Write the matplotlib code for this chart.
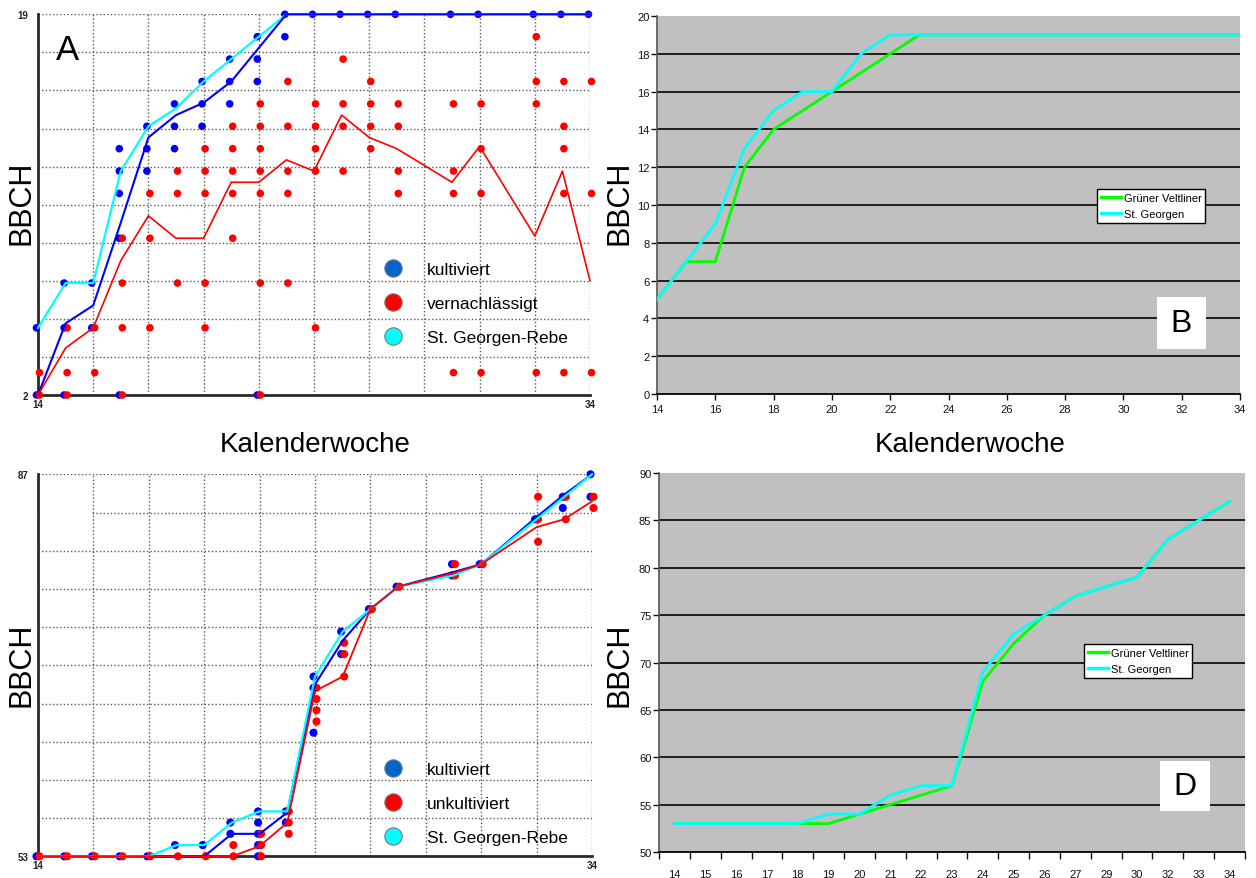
import numpy as np
import matplotlib
matplotlib.use('Agg')
import matplotlib.pyplot as plt
from matplotlib.lines import Line2D
from matplotlib.patches import Rectangle
import matplotlib.transforms as mtransforms

plt.rcParams['font.family'] = ['Liberation Sans', 'DejaVu Sans']
NARROW = ['Liberation Sans Narrow', 'Liberation Sans', 'DejaVu Sans']

# ---------------- data ----------------
weeks = [14, 15, 16, 17, 18, 19, 20, 21, 22, 23, 24, 25, 26, 27, 29, 30, 32, 33, 34]
week_labels = [str(w) for w in weeks]

# Panel A (BBCH 2..19) single observations
a_kult_points = {
    14: [5, 2], 15: [7, 5, 2], 16: [7, 5], 17: [13, 12, 11, 9, 2],
    18: [14, 13, 12], 19: [15, 14, 13], 20: [16, 15, 14], 21: [17, 16, 15],
    22: [18, 17, 16, 2], 23: [19, 18], 24: [19], 25: [19], 26: [19], 27: [19],
    29: [19], 30: [19], 32: [19], 33: [19], 34: [19],
}
a_vern_points = {
    14: [3, 2], 15: [5, 3, 2], 16: [5, 3], 17: [9, 7, 5, 2], 18: [11, 9, 5],
    19: [12, 11, 7], 20: [13, 12, 11, 7, 5], 21: [14, 13, 12, 11, 9],
    22: [15, 14, 13, 12, 11, 7, 2], 23: [16, 14, 12, 11, 7],
    24: [15, 14, 13, 12, 5], 25: [17, 15, 14, 12], 26: [16, 15, 14, 13],
    27: [15, 14, 12, 11], 29: [15, 12, 11, 3], 30: [15, 13, 11, 3],
    32: [18, 16, 15, 3], 33: [16, 14, 13, 11, 3], 34: [16, 11, 3],
}
a_kult_line = [2, 5.2, 6.0, 9.7, 13.5, 14.5, 15.05, 16.0, 17.5, 19,
               19, 19, 19, 19, 19, 19, 19, 19, 19]
a_georg_line = [5, 7, 7, 12, 14, 14.8, 16, 17, 18, 19,
                19, 19, 19, 19, 19, 19, 19, 19, 19]
a_vern_line = [2, 4.1, 5.0, 8.0, 10.0, 9.0, 9.0, 11.5, 11.5, 12.5,
               12.0, 14.5, 13.5, 13.0, 11.5, 13.1, 9.1, 12.0, 7.1]

# Panel C (BBCH 53..87)
c_kult_points = {
    14: [53], 15: [53], 16: [53], 17: [53], 18: [53], 19: [54], 20: [54],
    21: [56, 55], 22: [57, 56, 55, 54, 53], 23: [57, 56], 24: [69, 68, 64],
    25: [73, 71], 26: [75], 27: [77], 29: [79, 78], 30: [79], 32: [83],
    33: [85, 84], 34: [87, 85],
}
c_unkult_points = {
    14: [53], 15: [53], 16: [53], 17: [53], 18: [53], 19: [53], 20: [53],
    21: [54, 53], 22: [55, 54, 53], 23: [57, 56, 55], 24: [68, 67, 66, 65],
    25: [72, 71, 69], 26: [75], 27: [77], 29: [79, 78], 30: [79],
    32: [85, 83, 81], 33: [85, 83], 34: [85, 84],
}
c_kult_line = [53, 53, 53, 53, 53, 53, 53, 55, 55, 56.9,
               68.3, 72.2, 75, 77, 78.3, 79, 83.2, 85.2, 87]
c_unkult_line = [53, 53, 53, 53, 53, 53, 53, 53, 53.9, 56.0,
                 67.7, 69, 75, 77, 78.2, 79, 82.3, 83, 84.6]

# Panels B and D (Grüner Veltliner vs St. Georgen)
b_gv = [5, 7, 7, 12, 14, 15, 16, 17, 18, 19, 19, 19, 19, 19, 19, 19, 19, 19, 19]
b_sg = [5, 7, 9, 13, 15, 16, 16, 18, 19, 19, 19, 19, 19, 19, 19, 19, 19, 19, 19]
d_gv = [53, 53, 53, 53, 53, 53, 54, 55, 56, 57, 68, 72, 75, 77, 78, 79, 83, 85, 87]
d_sg = [53, 53, 53, 53, 53, 54, 54, 56, 57, 57, 69, 73, 75, 77, 78, 79, 83, 85, 87]

# ---------------- colours ----------------
BLUE = '#0000ff'
RED = '#ff0000'
CYAN = '#00ffff'
GREEN = '#00ff00'
LEG_BLUE = '#0066cc'

W, H = 1256, 879
fig = plt.figure(figsize=(W / 100, H / 100), dpi=100)


def fbox(x0, y0, x1, y1):
    """pixel box (top-left origin) -> figure fraction rect"""
    return [x0 / W, 1 - y1 / H, (x1 - x0) / W, (y1 - y0) / H]


def dotted_panel(ax, ylo, yhi):
    ax.set_xlim(14, 34)
    ax.set_ylim(ylo, yhi)
    ax.set_xticks(np.arange(14, 35, 2))
    ax.set_yticks(np.linspace(ylo, yhi, 11))
    xl = [''] * 11
    xl[0], xl[-1] = '14', '34'
    yl = [''] * 11
    yl[0], yl[-1] = str(ylo), str(yhi)
    ax.set_xticklabels(xl)
    ax.set_yticklabels(yl)
    ax.tick_params(length=0, labelsize=7, colors='#222222')
    ax.tick_params(axis='x', pad=3)
    ax.tick_params(axis='y', pad=7)
    for t in ax.get_xticklabels() + ax.get_yticklabels():
        t.set_fontweight('bold')
    ax.grid(True, color='#5a5a5a', linestyle=(0, (1, 1.6)), linewidth=1.0)
    ax.set_axisbelow(True)
    for s in ['top', 'right']:
        ax.spines[s].set_visible(False)
    for s in ['left', 'bottom']:
        ax.spines[s].set_color('#2a2a2a')
        ax.spines[s].set_linewidth(2)


def scatter_points(ax, pts, color, dx, size):
    tr = mtransforms.offset_copy(ax.transData, fig=fig, x=dx, y=0, units='dots')
    xs, ys = [], []
    for wk, vals in pts.items():
        for v in vals:
            xs.append(wk)
            ys.append(v)
    ax.scatter(xs, ys, s=size, color=color, edgecolors='none', transform=tr,
               clip_on=False, zorder=3)


def circle_legend(ax, labels, top_px):
    handles = [Line2D([], [], linestyle='none', marker='o', markersize=12.5,
                      markerfacecolor=c, markeredgecolor='#7a7a7a', markeredgewidth=0.8)
               for c in (LEG_BLUE, RED, CYAN)]
    ax.legend(handles, labels, loc='upper left', bbox_to_anchor=(384 / W, 1 - top_px / H),
              bbox_transform=fig.transFigure, frameon=False, fontsize=12.5,
              handlelength=1.0, handletextpad=1.45, labelspacing=1.07,
              borderpad=0, borderaxespad=0)


# ---------------- Panel A ----------------
axA = fig.add_axes(fbox(38, 15.3, 590, 396))
dotted_panel(axA, 2, 19)
scatter_points(axA, a_kult_points, BLUE, -1.5, 30)
scatter_points(axA, a_vern_points, RED, 1.5, 30)
axA.plot(weeks, a_georg_line, color=CYAN, lw=1.6, zorder=4, clip_on=False)
axA.plot(weeks, a_kult_line, color=BLUE, lw=1.5, zorder=5, clip_on=False)
axA.plot(weeks, a_vern_line, color=RED, lw=1.2, zorder=5, clip_on=False)
circle_legend(axA, ['kultiviert', 'vernachlässigt', 'St. Georgen-Rebe'], 263)
fig.text(68 / W, 1 - 50 / H, 'A', fontsize=25, ha='center', va='center')

# ---------------- Panel C ----------------
axC = fig.add_axes(fbox(38, 475.3, 592, 857.3))
dotted_panel(axC, 53, 87)
axC.add_patch(Rectangle((14.08, 81.5), 1.86, 5.25, facecolor='white',
                        edgecolor='none', zorder=1))
scatter_points(axC, c_kult_points, BLUE, -1.5, 34)
scatter_points(axC, c_unkult_points, RED, 1.5, 34)
axC.plot(weeks, c_kult_line, color=BLUE, lw=1.5, zorder=4, clip_on=False)
axC.plot(weeks, d_sg, color=CYAN, lw=1.6, zorder=5, clip_on=False)
axC.plot(weeks, c_unkult_line, color=RED, lw=1.3, zorder=5, clip_on=False)
circle_legend(axC, ['kultiviert', 'unkultiviert', 'St. Georgen-Rebe'], 763)

# ---------------- Panel B ----------------
axB = fig.add_axes(fbox(657, 17, 1240, 395))
axB.set_facecolor('#c0c0c0')
axB.set_xlim(14, 34)
axB.set_ylim(0, 20)
axB.set_xticks(np.arange(14, 35, 2))
axB.set_yticks(np.arange(0, 21, 2))
for y in np.arange(2, 20, 2):
    axB.axhline(y, color='#111111', lw=1.3, zorder=1)
axB.plot(weeks, b_gv, color=GREEN, lw=2.0, zorder=3, label='Grüner Veltliner')
axB.plot(weeks, b_sg, color=CYAN, lw=2.0, zorder=4, label='St. Georgen')

# ---------------- Panel D ----------------
axD = fig.add_axes(fbox(659, 474, 1245, 853))
axD.set_facecolor('#c0c0c0')
pos = np.arange(len(weeks))
axD.set_xlim(-0.5, len(weeks) - 0.5)
axD.set_ylim(50, 90)
axD.set_xticks(pos)
axD.set_xticklabels(week_labels)
axD.set_xticks(np.arange(-0.5, len(weeks), 1.0), minor=True)
axD.set_yticks(np.arange(50, 91, 5))
for y in np.arange(55, 90, 5):
    axD.axhline(y, color='#111111', lw=1.3, zorder=1)
axD.plot(pos, d_gv, color=GREEN, lw=2.0, zorder=3, label='Grüner Veltliner')
axD.plot(pos, d_sg, color=CYAN, lw=2.0, zorder=4, label='St. Georgen')

for ax in (axB, axD):
    for s in ['top', 'right']:
        ax.spines[s].set_visible(False)
    ax.spines['left'].set_color('#555555')
    ax.spines['left'].set_linewidth(1.2)
    ax.spines['bottom'].set_color('#000000')
    ax.spines['bottom'].set_linewidth(1.3)
    ax.tick_params(which='major', length=4, width=1, colors='#111111', labelsize=8)
    ax.tick_params(axis='y', pad=1.5)
    for t in ax.get_xticklabels() + ax.get_yticklabels():
        t.set_family(NARROW)

axD.tick_params(axis='x', which='major', length=0, pad=12)
axD.tick_params(axis='x', which='minor', length=5, width=1, color='#111111')

for ax, top_px, left_px in ((axB, 190, 1097), (axD, 645, 1084)):
    leg = ax.legend(loc='upper left', bbox_to_anchor=(left_px / W, 1 - top_px / H),
                    bbox_transform=fig.transFigure,
                    prop={'family': NARROW, 'size': 8},
                    frameon=True, fancybox=False, framealpha=1, edgecolor='black',
                    handlelength=1.8, handletextpad=0.25, labelspacing=0.55,
                    borderpad=0.35, borderaxespad=0)
    leg.get_frame().set_linewidth(1.0)
    for ln in leg.get_lines():
        ln.set_linewidth(2.5)

# letter boxes
for (x0, y0, x1, y1, letter) in ((1157, 298, 1206, 350, 'B'), (1160, 762, 1210, 812, 'D')):
    fig.patches.append(Rectangle((x0 / W, 1 - y1 / H), (x1 - x0) / W, (y1 - y0) / H,
                                 transform=fig.transFigure, facecolor='white',
                                 edgecolor='none', zorder=5))
    fig.text((x0 + x1) / 2 / W, 1 - (y0 + y1) / 2 / H, letter, fontsize=23,
             ha='center', va='center', zorder=6)

# axis titles
for xp, yp in ((22, 203), (22, 665), (620, 203), (620, 665)):
    fig.text(xp / W, 1 - yp / H, 'BBCH', rotation=90, fontsize=22,
             ha='center', va='center')
for xp in (315, 970):
    fig.text(xp / W, 1 - 445 / H, 'Kalenderwoche', fontsize=20,
             ha='center', va='center')

fig.savefig('out.png', dpi=100)
